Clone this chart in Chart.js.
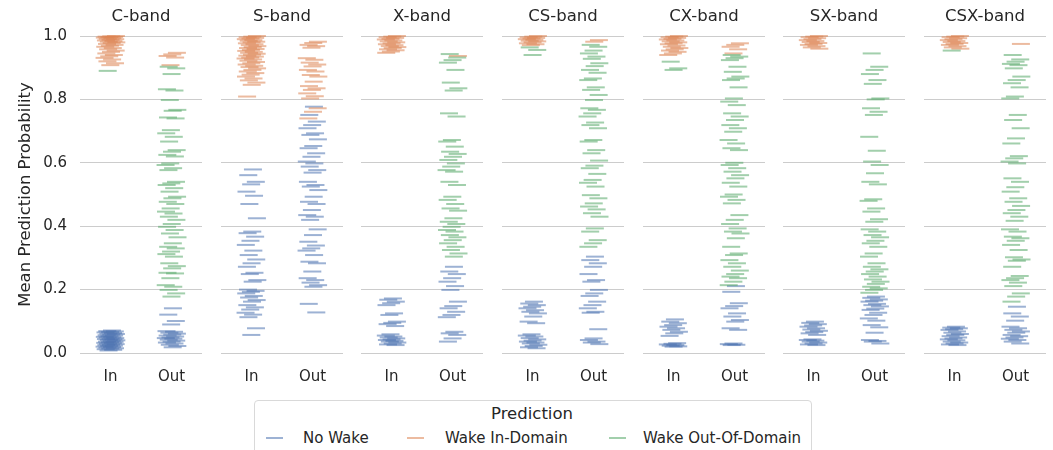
<!DOCTYPE html>
<html>
<head>
<meta charset="utf-8">
<script src="https://cdn.jsdelivr.net/npm/chart.js@4.4.1/dist/chart.umd.min.js"></script>
<style>
  body { margin: 0; background: #ffffff; font-family: "DejaVu Sans", sans-serif; color: #262626; }
  #fig { position: relative; width: 1053px; height: 450px; overflow: hidden; background: #ffffff; }
  #fig canvas { position: absolute; top: 0; }
  #legendBox { position: absolute; left: 254px; top: 400px; width: 558px; height: 70px;
               border: 1px solid #d9d9d9; border-radius: 4px; box-sizing: border-box; background: #fff; }
  .lg-title { position: absolute; top: 404px; font-size: 16.5px; line-height: 20px; white-space: nowrap; transform: translateX(-50%); }
  .lg-text { position: absolute; top: 429px; font-size: 15px; line-height: 18px; white-space: nowrap; }
  .lg-mark { position: absolute; top: 437px; width: 17px; height: 2px; }
</style>
</head>
<body>
<div id="fig"></div>
<script>
// Facets, x categories and hue levels
const bandNames = ['C-band', 'S-band', 'X-band', 'CS-band', 'CX-band', 'SX-band', 'CSX-band'];
const groups = ['In', 'Out'];
const seriesNames = ['No Wake', 'Wake In-Domain', 'Wake Out-Of-Domain'];
const seriesRGB = ['76,114,176', '221,132,82', '85,168,104'];
const yTicks = [0, 0.2, 0.4, 0.6, 0.8, 1.0];

// Mean prediction probabilities per band / domain / predicted class
// C-band
const cInNo = [0.071, 0.069, 0.068, 0.066, 0.065, 0.063, 0.061, 0.06, 0.058, 0.056, 0.055, 0.053, 0.051, 0.05, 0.049, 0.047, 0.045, 0.044, 0.043, 0.041, 0.04, 0.038, 0.036, 0.035, 0.034, 0.032, 0.031, 0.029, 0.028, 0.026, 0.025, 0.023, 0.022, 0.02, 0.019, 0.017, 0.015, 0.014, 0.012, 0.01, 0.008];
const cInWakeIn = [1.0, 0.999, 0.998, 0.997, 0.996, 0.995, 0.993, 0.991, 0.99, 0.988, 0.986, 0.984, 0.982, 0.98, 0.978, 0.975, 0.972, 0.969, 0.966, 0.962, 0.958, 0.954, 0.95, 0.945, 0.94, 0.936, 0.931, 0.926, 0.92, 0.914, 0.908];
const cInWakeOut = [0.89];
const cOutNo = [0.141, 0.121, 0.101, 0.09, 0.069, 0.067, 0.064, 0.061, 0.058, 0.055, 0.052, 0.049, 0.047, 0.045, 0.042, 0.039, 0.036, 0.033, 0.03, 0.026, 0.022, 0.018];
const cOutWakeIn = [0.947, 0.942, 0.937, 0.932, 0.908];
const cOutWakeOut = [0.903, 0.898, 0.88, 0.832, 0.828, 0.798, 0.767, 0.764, 0.743, 0.74, 0.703, 0.693, 0.682, 0.667, 0.64, 0.635, 0.625, 0.62, 0.598, 0.593, 0.583, 0.577, 0.54, 0.535, 0.53, 0.52, 0.509, 0.493, 0.488, 0.477, 0.47, 0.456, 0.446, 0.44, 0.43, 0.42, 0.407, 0.398, 0.388, 0.377, 0.365, 0.346, 0.335, 0.33, 0.32, 0.312, 0.304, 0.283, 0.274, 0.267, 0.253, 0.251, 0.236, 0.214, 0.209, 0.199, 0.188, 0.178];

// S-band
const sInNo = [0.579, 0.561, 0.54, 0.532, 0.509, 0.496, 0.47, 0.425, 0.383, 0.378, 0.367, 0.354, 0.341, 0.323, 0.309, 0.295, 0.283, 0.272, 0.253, 0.249, 0.23, 0.225, 0.2, 0.196, 0.193, 0.188, 0.18, 0.175, 0.167, 0.162, 0.151, 0.144, 0.137, 0.127, 0.121, 0.113, 0.078, 0.057];
const sInWakeIn = [1.0, 0.998, 0.996, 0.994, 0.992, 0.99, 0.987, 0.985, 0.982, 0.98, 0.977, 0.974, 0.971, 0.968, 0.965, 0.962, 0.959, 0.956, 0.953, 0.95, 0.947, 0.944, 0.941, 0.938, 0.935, 0.932, 0.929, 0.926, 0.922, 0.918, 0.914, 0.91, 0.906, 0.902, 0.898, 0.893, 0.888, 0.883, 0.878, 0.872, 0.866, 0.86, 0.853, 0.846, 0.809];
const sInWakeOut = [];
const sOutNo = [0.777, 0.751, 0.73, 0.719, 0.709, 0.693, 0.688, 0.674, 0.653, 0.646, 0.63, 0.619, 0.604, 0.598, 0.588, 0.577, 0.569, 0.54, 0.53, 0.525, 0.514, 0.493, 0.477, 0.47, 0.451, 0.435, 0.43, 0.42, 0.39, 0.372, 0.351, 0.339, 0.33, 0.323, 0.309, 0.288, 0.283, 0.257, 0.236, 0.23, 0.222, 0.214, 0.209, 0.155, 0.128];
const sOutWakeIn = [0.982, 0.978, 0.972, 0.968, 0.963, 0.93, 0.925, 0.916, 0.91, 0.904, 0.893, 0.888, 0.877, 0.872, 0.856, 0.842, 0.835, 0.83, 0.819, 0.81, 0.803, 0.772, 0.761, 0.74];
const sOutWakeOut = [];

// X-band
const xInNo = [0.172, 0.168, 0.162, 0.157, 0.151, 0.125, 0.12, 0.099, 0.095, 0.091, 0.085, 0.059, 0.055, 0.052, 0.049, 0.046, 0.043, 0.041, 0.038, 0.036, 0.033, 0.03, 0.027, 0.025];
const xInWakeIn = [1.0, 0.998, 0.996, 0.994, 0.991, 0.989, 0.986, 0.983, 0.98, 0.977, 0.974, 0.971, 0.968, 0.965, 0.962, 0.958, 0.955, 0.951, 0.947];
const xInWakeOut = [];
const xOutNo = [0.272, 0.257, 0.249, 0.236, 0.225, 0.211, 0.199, 0.162, 0.148, 0.141, 0.13, 0.12, 0.113, 0.067, 0.062, 0.057, 0.046, 0.036];
const xOutWakeIn = [0.937];
const xOutWakeOut = [0.943, 0.932, 0.924, 0.916, 0.893, 0.853, 0.835, 0.828, 0.756, 0.746, 0.672, 0.667, 0.651, 0.635, 0.628, 0.619, 0.609, 0.598, 0.588, 0.577, 0.572, 0.54, 0.53, 0.493, 0.483, 0.47, 0.456, 0.449, 0.425, 0.414, 0.407, 0.398, 0.388, 0.383, 0.372, 0.365, 0.356, 0.346, 0.335, 0.325, 0.314, 0.304];

// CS-band
const csInNo = [0.162, 0.156, 0.151, 0.146, 0.141, 0.135, 0.13, 0.125, 0.115, 0.099, 0.094, 0.059, 0.055, 0.052, 0.047, 0.043, 0.039, 0.036, 0.033, 0.03, 0.026, 0.022, 0.018, 0.015];
const csInWakeIn = [1.0, 0.998, 0.996, 0.994, 0.992, 0.99, 0.988, 0.985, 0.983, 0.98, 0.977, 0.974, 0.971];
const csInWakeOut = [0.964, 0.956, 0.94];
const csOutNo = [0.304, 0.293, 0.283, 0.272, 0.249, 0.23, 0.225, 0.199, 0.188, 0.18, 0.162, 0.151, 0.141, 0.13, 0.127, 0.075, 0.046, 0.041, 0.036, 0.033, 0.028];
const csOutWakeIn = [0.987, 0.982];
const csOutWakeOut = [0.972, 0.966, 0.954, 0.945, 0.935, 0.928, 0.914, 0.905, 0.893, 0.884, 0.866, 0.861, 0.838, 0.83, 0.814, 0.798, 0.772, 0.767, 0.756, 0.746, 0.727, 0.719, 0.709, 0.672, 0.667, 0.64, 0.63, 0.607, 0.591, 0.583, 0.565, 0.546, 0.537, 0.525, 0.498, 0.488, 0.472, 0.462, 0.453, 0.441, 0.43, 0.393, 0.383, 0.356, 0.346, 0.335];

// CX-band
const cxInNo = [0.106, 0.099, 0.094, 0.088, 0.083, 0.078, 0.073, 0.067, 0.062, 0.054, 0.031, 0.029, 0.027, 0.025, 0.023, 0.021, 0.02];
const cxInWakeIn = [1.0, 0.998, 0.996, 0.994, 0.991, 0.989, 0.986, 0.983, 0.98, 0.977, 0.974, 0.97, 0.966, 0.962, 0.958, 0.954, 0.95, 0.945, 0.94];
const cxInWakeOut = [0.919, 0.898, 0.893];
const cxOutNo = [0.211, 0.193, 0.157, 0.148, 0.141, 0.125, 0.115, 0.104, 0.099, 0.078, 0.073, 0.03, 0.028, 0.026, 0.025];
const cxOutWakeIn = [0.977, 0.972, 0.966, 0.958, 0.945];
const cxOutWakeOut = [0.94, 0.935, 0.93, 0.924, 0.903, 0.887, 0.872, 0.866, 0.861, 0.838, 0.803, 0.793, 0.782, 0.756, 0.746, 0.735, 0.719, 0.709, 0.698, 0.672, 0.661, 0.646, 0.64, 0.6, 0.593, 0.583, 0.572, 0.561, 0.551, 0.537, 0.525, 0.5, 0.493, 0.483, 0.472, 0.435, 0.42, 0.407, 0.393, 0.383, 0.377, 0.362, 0.335, 0.314, 0.309, 0.293, 0.283, 0.272, 0.26, 0.249, 0.241, 0.236, 0.225, 0.214];

// SX-band
const sxInNo = [0.099, 0.095, 0.091, 0.087, 0.083, 0.078, 0.074, 0.07, 0.066, 0.062, 0.057, 0.043, 0.041, 0.039, 0.036, 0.033, 0.03, 0.027, 0.025];
const sxInWakeIn = [1.0, 0.998, 0.996, 0.993, 0.99, 0.987, 0.984, 0.981, 0.978, 0.975, 0.972, 0.968, 0.964, 0.96];
const sxInWakeOut = [];
const sxOutNo = [0.178, 0.174, 0.169, 0.165, 0.162, 0.155, 0.151, 0.147, 0.14, 0.136, 0.127, 0.12, 0.109, 0.102, 0.088, 0.081, 0.064, 0.041, 0.038, 0.036, 0.03];
const sxOutWakeIn = [];
const sxOutWakeOut = [0.945, 0.903, 0.893, 0.88, 0.861, 0.849, 0.803, 0.8, 0.772, 0.761, 0.751, 0.682, 0.638, 0.604, 0.593, 0.567, 0.54, 0.532, 0.485, 0.48, 0.456, 0.446, 0.422, 0.414, 0.39, 0.383, 0.372, 0.365, 0.354, 0.346, 0.335, 0.314, 0.304, 0.283, 0.272, 0.264, 0.257, 0.249, 0.241, 0.232, 0.225, 0.218, 0.209, 0.204, 0.199, 0.19];

// CSX-band
const csxInNo = [0.083, 0.08, 0.078, 0.075, 0.073, 0.068, 0.064, 0.06, 0.057, 0.053, 0.049, 0.046, 0.043, 0.04, 0.036, 0.033, 0.03, 0.027, 0.025];
const csxInWakeIn = [1.0, 0.998, 0.996, 0.993, 0.99, 0.987, 0.984, 0.981, 0.978, 0.975, 0.972, 0.968, 0.964, 0.96];
const csxInWakeOut = [0.954];
const csxOutNo = [0.146, 0.125, 0.115, 0.102, 0.083, 0.078, 0.073, 0.068, 0.064, 0.057, 0.053, 0.049, 0.045, 0.041, 0.036, 0.03];
const csxOutWakeIn = [0.975];
const csxOutWakeOut = [0.94, 0.926, 0.919, 0.912, 0.908, 0.898, 0.872, 0.861, 0.851, 0.838, 0.809, 0.803, 0.751, 0.735, 0.709, 0.677, 0.661, 0.621, 0.614, 0.604, 0.598, 0.551, 0.54, 0.523, 0.509, 0.488, 0.477, 0.464, 0.451, 0.441, 0.43, 0.417, 0.39, 0.383, 0.367, 0.362, 0.354, 0.341, 0.325, 0.302, 0.295, 0.291, 0.272, 0.243, 0.236, 0.23, 0.222, 0.211, 0.188, 0.178, 0.162];

// [band][group][series]
const bandValues = [
  [[cInNo, cInWakeIn, cInWakeOut], [cOutNo, cOutWakeIn, cOutWakeOut]],
  [[sInNo, sInWakeIn, sInWakeOut], [sOutNo, sOutWakeIn, sOutWakeOut]],
  [[xInNo, xInWakeIn, xInWakeOut], [xOutNo, xOutWakeIn, xOutWakeOut]],
  [[csInNo, csInWakeIn, csInWakeOut], [csOutNo, csOutWakeIn, csOutWakeOut]],
  [[cxInNo, cxInWakeIn, cxInWakeOut], [cxOutNo, cxOutWakeIn, cxOutWakeOut]],
  [[sxInNo, sxInWakeIn, sxInWakeOut], [sxOutNo, sxOutWakeIn, sxOutWakeOut]],
  [[csxInNo, csxInWakeIn, csxInWakeOut], [csxOutNo, csxOutWakeIn, csxOutWakeOut]]
];

// Layout of the facet grid (pixels)
const FONT = '"DejaVu Sans", sans-serif';
const TEXT = '#262626';
const panelLeft0 = 80, panelStep = 140.67, panelWidth = 122;
const plotBottom = 353, canvasH = 392;
const markAlpha = 0.55;

// Strip-plot jitter: a fixed low-discrepancy spread of +/-0.1 category widths
const jitter = i => ((((i + 1) * 0.6180339887) % 1) - 0.5) * 0.2;

const fig = document.getElementById('fig');

bandNames.forEach((name, b) => {
  const first = b === 0;
  const left = Math.round(panelLeft0 + b * panelStep);
  const padL = first ? left : 4;
  const cw = padL + panelWidth + 4;
  const canvas = document.createElement('canvas');
  canvas.width = cw; canvas.height = canvasH;
  canvas.style.left = (left - padL) + 'px';
  canvas.style.width = cw + 'px'; canvas.style.height = canvasH + 'px';
  fig.appendChild(canvas);

  const datasets = seriesNames.map((s, k) => {
    const pts = [];
    groups.forEach((g, gi) => {
      bandValues[b][gi][k].forEach((v, i) => pts.push({ x: gi + jitter(i + k * 7), y: v }));
    });
    const col = 'rgba(' + seriesRGB[k] + ',' + markAlpha + ')';
    return {
      label: s, data: pts, order: 2 - k, clip: false,
      pointStyle: 'line', pointRadius: 9, pointHoverRadius: 9,
      borderWidth: 2, pointBorderWidth: 2,
      borderColor: col, pointBorderColor: col, backgroundColor: col, pointBackgroundColor: col
    };
  });

  new Chart(canvas, {
    type: 'scatter',
    data: { datasets },
    options: {
      responsive: false, animation: false, devicePixelRatio: 1,
      events: [],
      layout: { autoPadding: false, padding: { left: 0, right: 4, top: 0, bottom: 0 } },
      plugins: {
        legend: { display: false },
        tooltip: { enabled: false },
        title: {
          display: true, text: name, fullSize: false, color: TEXT,
          font: { family: FONT, size: 16.5, weight: 'normal', lineHeight: 1 },
          padding: { top: 8, bottom: 11.5 }
        }
      },
      scales: {
        x: {
          type: 'linear', min: -0.5, max: 1.5,
          grid: { display: false }, border: { display: false },
          afterBuildTicks: s => { s.ticks = groups.map((g, j) => ({ value: j })); },
          ticks: {
            callback: v => groups[v], color: TEXT, padding: 7, maxRotation: 0, autoSkip: false,
            font: { family: FONT, size: 15 }
          },
          afterFit: s => { s.height = canvasH - plotBottom; }
        },
        y: {
          min: 0, max: 1,
          afterBuildTicks: s => { s.ticks = yTicks.map(v => ({ value: v })); },
          grid: { color: '#cccccc', lineWidth: 1, drawTicks: false },
          border: { display: false },
          ticks: {
            display: first, color: TEXT, padding: 13,
            callback: v => Number(v).toFixed(1),
            font: { family: FONT, size: 15 }
          },
          title: {
            display: first, text: 'Mean Prediction Probability', color: TEXT,
            font: { family: FONT, size: 16.5 }, padding: { top: 16, bottom: 0 }
          },
          afterFit: s => { s.width = padL; }
        }
      }
    }
  });
});

// Legend
const legendBox = document.createElement('div');
legendBox.id = 'legendBox';
fig.appendChild(legendBox);
const lgTitle = document.createElement('div');
lgTitle.className = 'lg-title';
lgTitle.textContent = 'Prediction';
lgTitle.style.left = '532px';
fig.appendChild(lgTitle);
const markLeft = [266, 407, 609];
const textLeft = [303, 445, 643];
seriesNames.forEach((s, k) => {
  const m = document.createElement('div');
  m.className = 'lg-mark';
  m.style.left = markLeft[k] + 'px';
  m.style.background = 'rgba(' + seriesRGB[k] + ',' + markAlpha + ')';
  fig.appendChild(m);
  const t = document.createElement('div');
  t.className = 'lg-text';
  t.textContent = s;
  t.style.left = textLeft[k] + 'px';
  fig.appendChild(t);
});
</script>
</body>
</html>
